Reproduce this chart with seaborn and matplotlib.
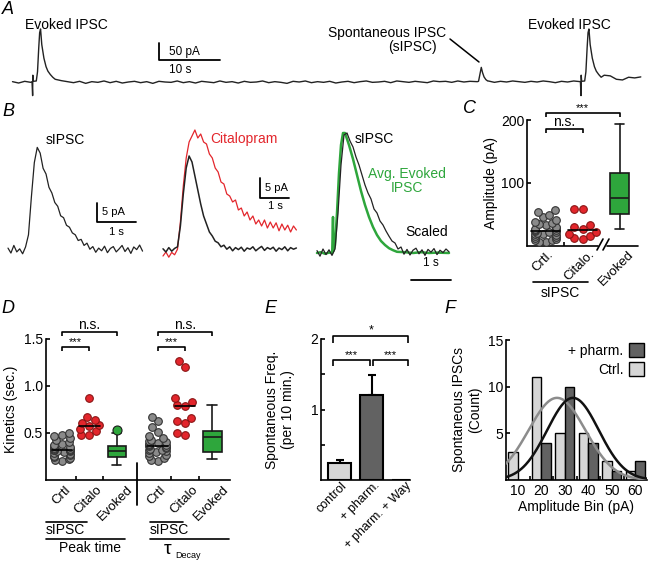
import numpy as np
import pandas as pd
import matplotlib
matplotlib.use('Agg')
import matplotlib.pyplot as plt
from matplotlib.patches import Patch
from matplotlib.transforms import ScaledTranslation
import seaborn as sns
import warnings
warnings.filterwarnings('ignore')

W, H = 648, 561

# ---------------- data ----------------
# A: long recording, baseline sampled once per second (pA)
a_base = [
    1, -3, 2, -1, 0, 0, 0, 8, 4, 1,
    -2, 2, -4, 1, -1, 3, -2, 2, -3, 0,
    2, -2, 1, -4, 2, 0, -1, 3, -2, 1,
    -3, 2, 0, -2, 3, -1, 1, -3, 2, -1,
    0, 3, -2, 1, -1, -4, 2, 0, 3, -2,
    1, -1, 2, -3, 0, 2, -2, 1, 3, -1,
    0, 2, -2, 3, 1, -1, 2, 0, -2, 3,
    1, 2, -1, 3, 0, 2, 1, 0, 3, -1,
    2, 0, 3, 1, -1, 2, 0, 3, 1, -2,
    2, 0, 3, 1, 0, 0, 0, 20, 18, 8,
    6, 14, 12, 15,
]
evoked_onsets = [3.3, 93.2]          # s (stimulus artefact)
evoked_dt = [-0.1, 0.0, 0.03, 0.1, 0.6, 0.8, 1.0, 1.15, 1.3, 1.5, 1.85, 2.2, 2.5, 2.9, 3.3]
evoked_pa = [1, -40, 20, 2, 3, 30, 100, 145, 156, 110, 70, 45, 32, 22, 14]
spont_onsets = [76.4]
spont_dt = [-0.2, 0.0, 0.2, 0.45, 0.65, 0.9, 1.2, 1.5]
spont_pa = [1, 2, 20, 43, 28, 15, 7, 3]

# B: example traces
b1_dt = 0.075
b1_pa = [0.5, -0.8, 1.2, -0.5, 0.3, -1.0, 0.8, 4.0, 14.0, 23.0, 27.0, 25.5, 21.5, 20.0,
         16.5, 15.0, 12.5, 11.5, 9.0, 8.5, 6.5, 6.0, 4.5, 4.0, 2.5, 2.8, 1.2, 1.8, 0.2,
         0.9, -0.6, 0.5, -0.2, 1.0, -0.7, 0.4, 0.9, -0.5, 0.3, 1.2, -0.4, 0.6, -0.9, 0.8,
         0.1, 1.3, -0.3]
b2_dt = 0.1
b2_ctrl_pa = [0.3, -0.5, 0.6, -0.3, 0.4, 0.8, 6, 14, 20.5, 23.5, 22, 18.5, 15, 11.5, 8.5,
              6.5, 4.5, 3.5, 2.2, 1.8, 0.8, 1.2, 0.2, 0.8, -0.2, 0.6, 0.1, 0.7, -0.3, 0.5,
              0.2, 0.8, -0.2, 0.4, 0.9, -0.1, 0.6, 0.2, 0.7, -0.3, 0.5, 0.1, 0.8, -0.2, 0.6,
              0.2, 0.5]
b2_cit_pa = [-1.5, -0.5, -1.8, -0.6, -1.2, 0.2, 7, 16, 23, 27, 28.5, 30, 28, 29, 27, 26.5,
             24, 23, 20.5, 19.5, 17, 16.5, 14, 13.5, 12, 12.5, 10, 10.5, 8.5, 9.5, 7.5, 8.5,
             6.5, 7.5, 6, 7.5, 5.5, 7, 5.5, 6.8, 4.8, 6.5, 5, 6.2, 4.5, 6, 5]
b3_dt = 0.075
b3_spont_pa = [0.6, -0.8, 1.0, -0.4, 0.8, -0.6, 1.0, 10, 22, 29.5, 30, 28, 26.5, 24, 22,
               19.5, 17, 15, 13.5, 11, 10, 8, 7, 5.5, 4.2, 3, 2.5, 1, 1.5, -0.3, 0.9, -0.5,
               0.7, 1.2, -0.2, 0.8, -0.6, 0.9, 0.2, 1.1, -0.4, 0.7, 0.1, 1.0, 0.3]
b3_evk_t = [0, 0.1, 0.2, 0.3, 0.38, 0.4, 0.41, 0.45, 0.5, 0.55, 0.6, 0.65, 0.7, 0.8, 0.9,
            1.0, 1.1, 1.2, 1.3, 1.4, 1.5, 1.6, 1.7, 1.8, 1.9, 2.0, 2.2, 2.4, 2.6, 2.8, 3.0, 3.3]
b3_evk_pa = [0, 0.2, -0.2, 0.1, 0, 9, 0.5, 2, 10, 20, 27, 30, 30, 27, 23.5, 19.5, 15.5, 12,
             9, 6.5, 4.5, 3, 2, 1.2, 0.7, 0.3, 0.2, 0, 0.2, 0, 0.1, 0]

# C: amplitudes (pA)
c_ctrl = [5, 6, 8, 9, 11, 12, 14, 15, 17, 18, 19, 20, 21, 22, 23, 24, 25, 26, 28, 30, 32,
          34, 36, 38, 41, 45, 49, 53, 56]
c_cit = [10, 12, 15, 18, 22, 27, 30, 32, 58, 58]
c_evoked = dict(whislo=26, q1=50, med=76, q3=115, whishi=194)
c_labels = ['Crtl.', 'Citalo.', 'Evoked']

# D: kinetics (s)
d_peak_ctrl = [0.2, 0.21, 0.22, 0.23, 0.24, 0.25, 0.26, 0.27, 0.28, 0.29, 0.3, 0.3, 0.31,
               0.31, 0.32, 0.32, 0.33, 0.33, 0.34, 0.35, 0.36, 0.37, 0.38, 0.4, 0.42, 0.44,
               0.46, 0.48, 0.5]
d_peak_cit = [0.47, 0.48, 0.52, 0.54, 0.57, 0.58, 0.6, 0.64, 0.67, 0.87]
d_peak_evoked = dict(whislo=0.16, q1=0.24, med=0.3, q3=0.36, whishi=0.5, fliers=[0.53])
d_tau_ctrl = [0.2, 0.21, 0.23, 0.25, 0.26, 0.28, 0.29, 0.3, 0.31, 0.32, 0.33, 0.34, 0.35,
              0.36, 0.37, 0.37, 0.38, 0.39, 0.4, 0.41, 0.42, 0.44, 0.46, 0.51, 0.56, 0.62,
              0.67]
d_tau_cit = [0.48, 0.5, 0.6, 0.62, 0.66, 0.79, 0.8, 0.83, 0.87, 1.2, 1.26]
d_tau_evoked = dict(whislo=0.22, q1=0.29, med=0.45, q3=0.52, whishi=0.8, fliers=[])
d_labels = ['Crtl', 'Citalo', 'Evoked', 'Crtl', 'Citalo', 'Evoked']

# E: spontaneous frequency
e_labels = ['control', '+ pharm.', '+ pharm. + Way']
e_freq = [0.24, 1.21, 0.0]
e_err = [0.04, 0.28, 0.0]

# F: amplitude histogram
f_bins = [10, 20, 30, 40, 50, 60]
f_ctrl = [3, 11, 5, 5, 2, 1]
f_pharm = [0, 4, 10, 4, 1, 2]
f_fit = {'Ctrl.': (8.8, 26.7, 12.1), '+ pharm.': (8.8, 33.5, 11.0)}  # amp, mean, sd

# ---------------- style ----------------
sns.set_style('ticks')
plt.rcParams['font.family'] = ['Liberation Sans', 'DejaVu Sans']
plt.rcParams.update({
    'axes.linewidth': 1.2, 'axes.edgecolor': 'black', 'axes.labelcolor': 'black',
    'xtick.color': 'black', 'ytick.color': 'black', 'text.color': 'black',
    'xtick.direction': 'in', 'ytick.direction': 'in',
    'xtick.major.width': 1.2, 'ytick.major.width': 1.2,
    'xtick.minor.width': 1.2, 'ytick.minor.width': 1.2,
    'xtick.major.size': 3, 'ytick.major.size': 3,
    'xtick.minor.size': 3, 'ytick.minor.size': 3,
    'font.size': 10,
})

GRAY = '#8a8a8a'
RED = '#e3262c'
GREEN = '#2ea63c'
LIGHT = '#d6d6d6'
DARK = '#626262'

fig = plt.figure(figsize=(W / 100, H / 100), dpi=100)
swarms = []


def px_axes(left, top, right, bottom):
    return fig.add_axes([left / W, 1 - bottom / H, (right - left) / W, (bottom - top) / H])


def trace_axes(box, x0, y0, ppx, ppy):
    left, top, right, bottom = box
    ax = px_axes(*box)
    ax.set_xlim((left - x0) / ppx, (right - x0) / ppx)
    ax.set_ylim((y0 - bottom) / ppy, (y0 - top) / ppy)
    ax.axis('off')
    return ax


def bracket(ax, x1, x2, y, h, label, fs):
    ax.plot([x1, x1, x2, x2], [y - h, y, y, y - h], color='black', lw=1.2,
            clip_on=False, solid_capstyle='butt')
    ax.text((x1 + x2) / 2, y, label, ha='center', va='bottom', fontsize=fs)


def rotate_labels(ax, dx=6, dy=-2, anchor_right=True):
    for lab in ax.get_xticklabels():
        lab.set_rotation(45)
        if anchor_right:
            lab.set_ha('right')
            lab.set_va('center')
            lab.set_rotation_mode('anchor')
        else:
            lab.set_ha('center')
            lab.set_va('top')
        lab.set_transform(lab.get_transform() +
                          ScaledTranslation(dx / 100, dy / 100, fig.dpi_scale_trans))


def box(ax, stats, pos, width):
    st = dict(stats)
    st.setdefault('fliers', [])
    ax.bxp([st], positions=[pos], widths=width, patch_artist=True, showfliers=True,
           boxprops=dict(facecolor=GREEN, edgecolor='#1a1a1a', lw=1.2),
           medianprops=dict(color='#1a1a1a', lw=1.2),
           whiskerprops=dict(color='#1a1a1a', lw=1.2),
           capprops=dict(color='#1a1a1a', lw=1.2),
           flierprops=dict(marker='o', markerfacecolor=GREEN, markeredgecolor='#1a1a1a',
                           markersize=6.5, markeredgewidth=0.8), zorder=3)


def swarm(ax, vals, pos, color, edge, squeeze):
    sns.swarmplot(x=np.full(len(vals), float(pos)), y=vals, native_scale=True, ax=ax,
                  color=color, edgecolor=edge, linewidth=0.8, size=5.5, zorder=3)
    swarms.append((ax.collections[-1], pos, squeeze))
    m = np.median(vals)
    ax.plot([pos - 0.38, pos + 0.38], [m, m], color='black', lw=1.2, zorder=4)


# ---------------- A ----------------
axA = trace_axes((10, 15, 646, 100), x0=12.5, y0=82, ppx=6.1, ppy=0.34)
windows = [(t0 + evoked_dt[0], t0 + evoked_dt[-1]) for t0 in evoked_onsets] + \
          [(t0 + spont_dt[0], t0 + spont_dt[-1]) for t0 in spont_onsets]
pts = [(float(t), v) for t, v in enumerate(a_base)
       if not any(a <= t <= b for a, b in windows)]
for t0 in evoked_onsets:
    pts += [(t0 + d, v) for d, v in zip(evoked_dt, evoked_pa)]
for t0 in spont_onsets:
    pts += [(t0 + d, v) for d, v in zip(spont_dt, spont_pa)]
pts.sort()
dfA = pd.DataFrame(pts, columns=['t', 'pA'])
sns.lineplot(data=dfA, x='t', y='pA', ax=axA, color='#222222', lw=1.0, estimator=None)
axA.axis('off')
axA.plot([24, 24, 34], [114.7, 64.7, 64.7], color='black', lw=1.3, clip_on=False)
axA.text(25.6, 88, '50 pA', fontsize=8.5, va='center')
axA.text(25.6, 35, '10 s', fontsize=8.5, va='center')

# ---------------- B ----------------
axB1 = trace_axes((5, 120, 145, 262), x0=8, y0=250, ppx=39, ppy=3.8)
axB1.plot(np.arange(len(b1_pa)) * b1_dt, b1_pa, color='#222222', lw=0.9)
axB1.plot([2.28, 2.28, 3.28], [12.4, 7.4, 7.4], color='black', lw=1.3, clip_on=False)
axB1.text(2.42, 9.9, '5 pA', fontsize=8, va='center')
axB1.text(2.78, 4.7, '1 s', fontsize=8, va='center', ha='center')
axB1.text(0.97, 29, 'sIPSC', fontsize=10, va='center')

axB2 = trace_axes((158, 120, 300, 262), x0=163, y0=250, ppx=29, ppy=4)
axB2.plot(np.arange(len(b2_cit_pa)) * b2_dt, b2_cit_pa, color=RED, lw=0.9)
axB2.plot(np.arange(len(b2_ctrl_pa)) * b2_dt, b2_ctrl_pa, color='#222222', lw=1.1)
axB2.plot([3.34, 3.34, 4.34], [18, 13, 13], color='black', lw=1.3, clip_on=False)
axB2.text(3.52, 15.5, '5 pA', fontsize=8, va='center')
axB2.text(3.86, 11, '1 s', fontsize=8, va='center', ha='center')
axB2.text(1.62, 27.75, 'Citalopram', fontsize=10, va='center', color=RED)

axB3 = trace_axes((312, 120, 455, 290), x0=317, y0=253, ppx=40, ppy=4)
axB3.plot(b3_evk_t, b3_evk_pa, color=GREEN, lw=1.8)
axB3.plot(np.arange(len(b3_spont_pa)) * b3_dt, b3_spont_pa, color='#222222', lw=0.9)
axB3.plot([2.35, 3.35], [-6.75, -6.75], color='black', lw=1.3, clip_on=False)
axB3.text(2.85, -2.5, '1 s', fontsize=8.5, va='center', ha='center')
axB3.text(0.95, 28.5, 'sIPSC', fontsize=10, va='center')
axB3.text(2.25, 18, 'Avg. Evoked\nIPSC', fontsize=10, va='center', ha='center',
          color=GREEN, linespacing=1.0)
axB3.text(2.2, 5.25, 'Scaled', fontsize=10, va='center')

# ---------------- C ----------------
axC = px_axes(527, 120, 638, 245.5)
swarm(axC, c_ctrl, 0, GRAY, '#333333', 0.7)
swarm(axC, c_cit, 1, RED, '#8a1515', 0.9)
box(axC, c_evoked, 2, 0.54)
axC.set_xlim(-0.5, 2.5)
axC.set_ylim(0, 200)
axC.set_yticks([100, 200])
axC.set_xticks([0, 1, 2])
axC.set_xticks([0.5], minor=True)
axC.set_xticklabels(c_labels, fontsize=9.5)
axC.tick_params(axis='x', which='major', length=0, pad=2)
axC.tick_params(axis='y', labelsize=10, pad=2)
rotate_labels(axC, dx=-3, dy=0, anchor_right=False)
axC.set_ylabel('Amplitude (pA)', fontsize=10, labelpad=2)
sns.despine(ax=axC, bottom=True)
axC.plot([0, 0.64], [0, 0], transform=axC.transAxes, color='black', lw=1.2, clip_on=False)
axC.plot([0.72, 1], [0, 0], transform=axC.transAxes, color='black', lw=1.2, clip_on=False)
bracket(axC, 0, 2, 211, 6, '***', 8)
bracket(axC, 0, 1, 186, 6, 'n.s.', 10)

# ---------------- D ----------------
axD = px_axes(46, 339, 230, 479.5)
d_pos = [0, 1, 2, 3.5, 4.5, 5.5]
swarm(axD, d_peak_ctrl, d_pos[0], GRAY, '#333333', 0.75)
swarm(axD, d_peak_cit, d_pos[1], RED, '#8a1515', 0.9)
box(axD, d_peak_evoked, d_pos[2], 0.66)
swarm(axD, d_tau_ctrl, d_pos[3], GRAY, '#333333', 0.75)
swarm(axD, d_tau_cit, d_pos[4], RED, '#8a1515', 0.9)
box(axD, d_tau_evoked, d_pos[5], 0.7)
axD.set_xlim(-0.59, 6.15)
axD.set_ylim(0, 1.5)
axD.set_yticks([0.5, 1.0, 1.5])
axD.set_yticklabels(['0.5', '1.0', '1.5'])
axD.set_xticks(d_pos)
axD.set_xticks([0.5, 1.5, 4.0, 5.0], minor=True)
axD.set_xticklabels(d_labels, fontsize=9.5)
axD.tick_params(axis='x', which='major', length=0, pad=3)
axD.tick_params(axis='y', labelsize=10, pad=2)
rotate_labels(axD, dx=-1, dy=0, anchor_right=False)
axD.set_ylabel('Kinetics (sec.)', fontsize=10, labelpad=4)
sns.despine(ax=axD)
axD.plot([2.75, 2.75], [0.18, -0.27], color='black', lw=1.3, clip_on=False)
for a, b, c in [(d_pos[0], d_pos[1], d_pos[2]), (d_pos[3], d_pos[4], d_pos[5])]:
    bracket(axD, a, b, 1.415, 0.045, '***', 8)
    bracket(axD, a, c, 1.575, 0.045, 'n.s.', 10)

# ---------------- E ----------------
axE = px_axes(321, 339, 410, 480)
dfE = pd.DataFrame({'cond': e_labels, 'freq': e_freq})
sns.barplot(data=dfE, x='cond', y='freq', hue='cond', order=e_labels,
            palette=[LIGHT, DARK, DARK], edgecolor='black', linewidth=1.5,
            width=0.72, legend=False, ax=axE, zorder=3)
axE.errorbar([0, 1], e_freq[:2], yerr=[[0, 0], e_err[:2]], fmt='none', ecolor='black',
             elinewidth=1.5, capsize=3, capthick=1.5, zorder=2)
axE.set_xlim(-0.58, 2.2)
axE.set_ylim(0, 2)
axE.set_yticks([1, 2])
axE.set_yticks([0.5, 1.5], minor=True)
axE.tick_params(axis='x', which='major', length=0, pad=2)
axE.tick_params(axis='y', labelsize=10, pad=2)
axE.set_xticks([0, 1, 2])
axE.set_xticklabels(e_labels, fontsize=9)
rotate_labels(axE, dx=6, dy=-1)
axE.set_xlabel('')
axE.set_ylabel('Spontaneous Freq.\n(per 10 min.)', fontsize=10, labelpad=11)
sns.despine(ax=axE)
bracket(axE, -0.2, 2.15, 2.04, 0.09, '*', 9)
bracket(axE, -0.2, 0.95, 1.70, 0.09, '***', 8)
bracket(axE, 1.05, 2.15, 1.70, 0.09, '***', 8)

# ---------------- F ----------------
axF = px_axes(506, 340, 647, 480)
fb = np.array(f_bins, dtype=float)
axF.bar(fb - 2, f_ctrl, width=3.9, color=LIGHT, edgecolor='black', lw=1.0, zorder=2)
axF.bar(fb + 2, f_pharm, width=3.9, color=DARK, edgecolor='black', lw=1.0, zorder=2)
xs = np.linspace(5, 65, 200)
for name, col in [('Ctrl.', '#8c8c8c'), ('+ pharm.', '#111111')]:
    amp, mu, sd = f_fit[name]
    axF.plot(xs, amp * np.exp(-(xs - mu) ** 2 / (2 * sd ** 2)), color=col, lw=1.8, zorder=3)
axF.set_xlim(5, 65)
axF.set_ylim(0, 15)
axF.set_yticks([5, 10, 15])
axF.set_xticks(f_bins)
axF.set_xticks([15, 25, 35, 45, 55], minor=True)
axF.tick_params(axis='x', which='major', length=0, labelsize=10, pad=3)
axF.tick_params(axis='y', labelsize=10, pad=2)
axF.set_xlabel('Amplitude Bin (pA)', fontsize=10, labelpad=1)
axF.set_ylabel('Spontaneous IPSCs\n(Count)', fontsize=10, labelpad=4)
sns.despine(ax=axF)
axF.legend(handles=[Patch(facecolor=DARK, edgecolor='black', label='+ pharm.'),
                    Patch(facecolor=LIGHT, edgecolor='black', label='Ctrl.')],
           loc='upper right', frameon=False, markerfirst=False, fontsize=10,
           handlelength=1.1, handleheight=1.2, handletextpad=0.4, labelspacing=0.3,
           borderaxespad=0.1, borderpad=0.1)

# ---------------- overlay: labels, group lines ----------------
axO = fig.add_axes([0, 0, 1, 1])
axO.set_xlim(0, W)
axO.set_ylim(H, 0)
axO.axis('off')
for letter, x, y in [('A', 8, 9), ('B', 8, 111), ('C', 470, 108), ('D', 8, 308),
                     ('E', 270, 308), ('F', 450, 308)]:
    axO.text(x, y, letter, fontsize=13, style='italic', ha='center', va='center')
axO.text(66, 25, 'Evoked IPSC', fontsize=10, ha='center', va='center')
axO.text(569, 25, 'Evoked IPSC', fontsize=10, ha='center', va='center')
axO.text(446, 33, 'Spontaneous IPSC', fontsize=10, ha='right', va='center')
axO.text(437, 47, '(sIPSC)', fontsize=10, ha='right', va='center')
axO.plot([450, 479], [39, 62], color='black', lw=1.1)
# C axis break and group line
axO.plot([597, 603], [250, 239], color='black', lw=1.2)
axO.plot([603, 609], [250, 239], color='black', lw=1.2)
axO.plot([533, 588], [282, 282], color='black', lw=1.2)
axO.text(560, 293, 'sIPSC', fontsize=10, ha='center', va='center')
# D group lines
axO.plot([46, 87], [522, 522], color='black', lw=1.2)
axO.text(46, 530, 'sIPSC', fontsize=10, ha='left', va='center')
axO.plot([46, 125], [539, 539], color='black', lw=1.2)
axO.text(90, 548, 'Peak time', fontsize=10, ha='center', va='center')
axO.plot([150, 183], [522, 522], color='black', lw=1.2)
axO.text(150, 530, 'sIPSC', fontsize=10, ha='left', va='center')
axO.plot([150, 229], [539, 539], color='black', lw=1.2)
axO.text(168, 549, 'τ', fontsize=14, ha='center', va='center')
axO.text(175, 555, 'Decay', fontsize=6.5, ha='left', va='center')

# let seaborn lay out the swarms once, then pull the points a bit closer together
fig.canvas.draw()
for coll, pos, squeeze in swarms:
    coll.__dict__.pop('draw', None)
    off = np.asarray(coll.get_offsets()).copy()
    off[:, 0] = pos + (off[:, 0] - pos) * squeeze
    coll.set_offsets(off)

fig.savefig('out.png', dpi=100)
